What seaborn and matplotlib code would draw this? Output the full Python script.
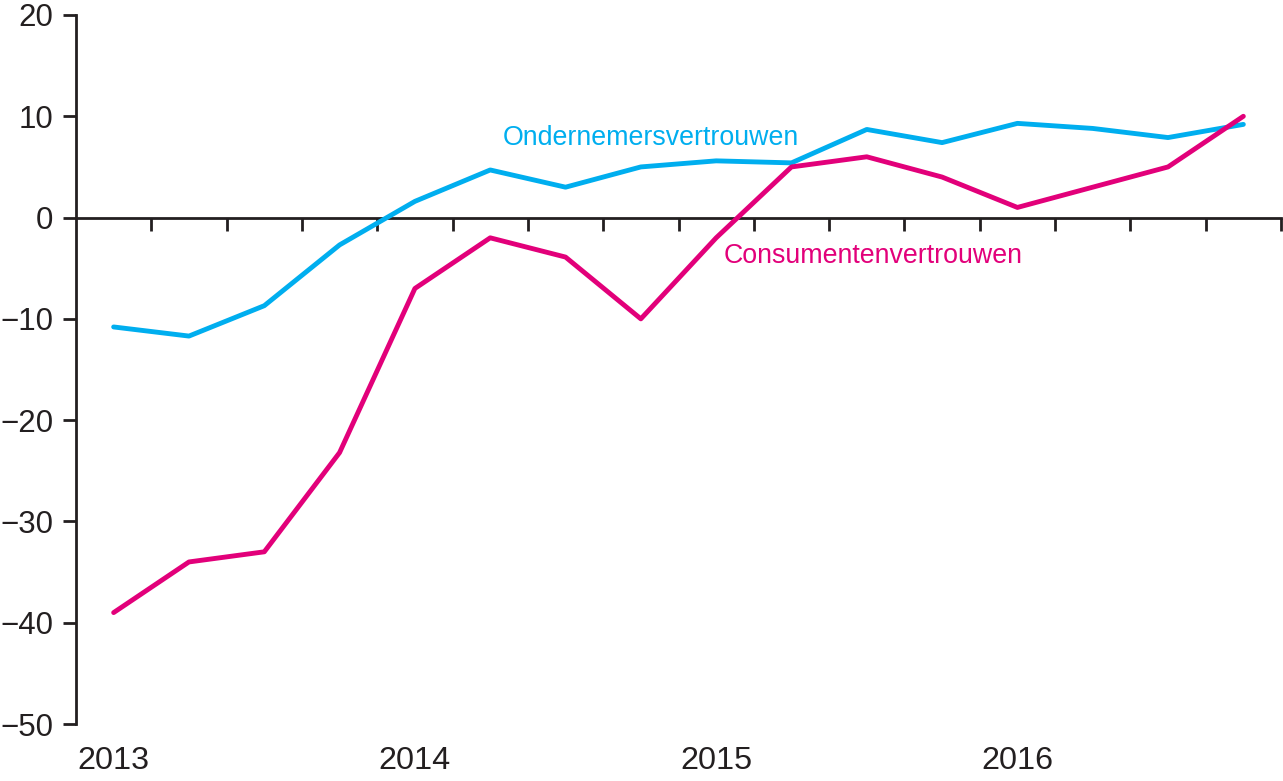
import matplotlib
matplotlib.use("Agg")
import matplotlib.pyplot as plt
import seaborn as sns
import pandas as pd
import numpy as np

quarters = ["2013K1", "2013K2", "2013K3", "2013K4",
            "2014K1", "2014K2", "2014K3", "2014K4",
            "2015K1", "2015K2", "2015K3", "2015K4",
            "2016K1", "2016K2", "2016K3", "2016K4"]
ondernemers = [-10.8, -11.7, -8.7, -2.7, 1.6, 4.7, 3.0, 5.0,
               5.6, 5.4, 8.7, 7.4, 9.3, 8.8, 7.9, 9.2]
consumenten = [-39, -34, -33, -23.2, -7, -2, -3.9, -10,
               -2, 5, 6, 4, 1, 3, 5, 10]
year_labels = ["2013", "2014", "2015", "2016"]
yticks = [20, 10, 0, -10, -20, -30, -40, -50]

cyan = "#00AEEF"
magenta = "#E2007A"
dark = "#231F20"

sns.set_style("ticks")
plt.rcParams["font.family"] = ["Liberation Sans", "DejaVu Sans"]

n = len(quarters)
df = pd.DataFrame({
    "pos": list(range(n)) * 2,
    "waarde": ondernemers + consumenten,
    "reeks": ["Ondernemersvertrouwen"] * n + ["Consumentenvertrouwen"] * n,
})

fig = plt.figure(figsize=(12.83, 7.81), dpi=100)
ax = fig.add_axes([76 / 1283, 57 / 781, 1205 / 1283, 709 / 781])

sns.lineplot(data=df, x="pos", y="waarde", hue="reeks",
             palette={"Ondernemersvertrouwen": cyan, "Consumentenvertrouwen": magenta},
             linewidth=3.5, ax=ax, legend=False, zorder=3)

ax.set_xlim(-0.5, n - 0.5)
ax.set_ylim(-50, 20)
ax.set_xlabel("")
ax.set_ylabel("")

for s in ["top", "right"]:
    ax.spines[s].set_visible(False)
ax.spines["bottom"].set_position(("data", 0))
ax.spines["left"].set_linewidth(2.0)
ax.spines["bottom"].set_linewidth(2.0)
ax.spines["left"].set_color(dark)
ax.spines["bottom"].set_color(dark)

ax.set_yticks(yticks)
ax.tick_params(axis="y", direction="out", length=9.5, width=2.0, color=dark,
               labelsize=22.5, labelcolor=dark, pad=7)
ax.set_xticks(np.arange(0.5, n, 1.0))
ax.set_xticklabels([])
ax.tick_params(axis="x", direction="out", length=9.5, width=2.0, color=dark)

for i, yl in enumerate(year_labels):
    ax.text(i * 4, -0.052, yl, transform=ax.get_xaxis_transform(),
            ha="center", va="center", fontsize=23.3, color=dark)

ax.text(5.16, 7.9, "Ondernemersvertrouwen", color=cyan, fontsize=19.3,
        ha="left", va="center")
ax.text(8.1, -3.8, "Consumentenvertrouwen", color=magenta, fontsize=19.3,
        ha="left", va="center")

fig.savefig("out.png", dpi=100)
